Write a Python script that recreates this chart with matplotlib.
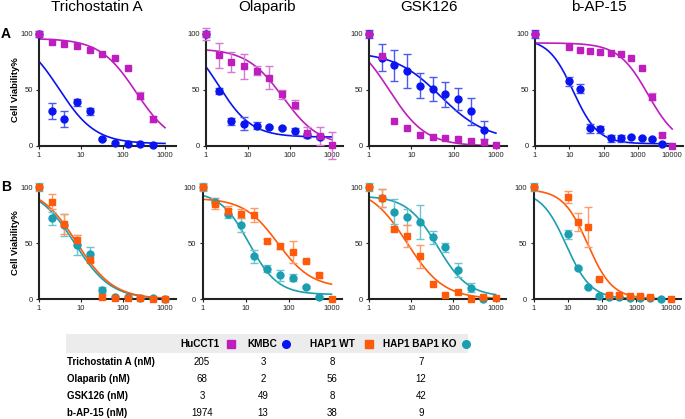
import numpy as np
import matplotlib
matplotlib.use("Agg")
import matplotlib.pyplot as plt
from matplotlib.lines import Line2D
from matplotlib.patches import Rectangle

plt.rcParams['font.family'] = ['Liberation Sans', 'DejaVu Sans']

# ---------------- data ----------------
drugs = ["Trichostatin A", "Olaparib", "GSK126", "b-AP-15"]
doses = [1, 2, 4, 8, 16, 32, 64, 128, 256, 512, 1000]
doses_bap = [1, 10, 20, 40, 80, 160, 320, 640, 1280, 2560, 5120, 10000]
nan = np.nan

# Row A: HuCCT1 (magenta squares), KMBC (blue circles)
tsa_hucct1 = [100, 93, 91, 89, 86, 82, 79, 70, 45, 24, nan]
tsa_hucct1_err = [0, 0, 0, 0, 0, 0, 0, 0, 3, 3, 0]
tsa_kmbc = [100, 31, 24, 39, 31, 6, 3, 2, 1.5, 1.2, nan]
tsa_kmbc_err = [3, 7, 7, 3, 3, 1, 0, 0, 0, 0, 0]

ola_hucct1 = [100, 81, 75, 71, 67, 61, 46, 37, 12, 9, 0.6]
ola_hucct1_err = [5, 11, 9, 11, 4, 10, 4, 4, 5, 8, 12]
ola_kmbc = [100, 49, 22, 20, 18, 17, 16, 13, 10, 8, nan]
ola_kmbc_err = [3, 3, 3, 6, 3, 1, 1, 3, 2, 2, 0]

gsk_hucct1 = [100, 80, 22, 16, 10, 8, 7, 6.5, 4.5, 3.3, 0.6]
gsk_hucct1_err = [0, 0, 0, 0, 0, 0, 0, 0, 0, 0, 0]
gsk_kmbc = [100, 79, 72, 67, 54, 51, 46, 42, 31, 14, nan]
gsk_kmbc_err = [4, 12, 14, 15, 11, 11, 11, 10, 12, 8, 0]

bap_hucct1 = [100, 88, 86, 85, 84, 83, 82, 79, 70, 44, 10, 0.3]
bap_hucct1_err = [0, 0, 0, 0, 0, 0, 0, 0, 0, 3, 2, 0]
bap_kmbc = [100, 58, 51, 16, 15, 7, 7, 8, 7, 6, 2, nan]
bap_kmbc_err = [4, 4, 4, 4, 3, 3, 3, 1, 1, 1, 1, 0]

# Row B: HAP1 WT (orange squares), HAP1 BAP1 KO (teal circles)
tsa_wt = [100, 87, 67, 53, 35, 1.5, 0.6, 1, 0.6, 0.3, 0]
tsa_wt_err = [0, 7, 9, 4, 2, 0, 0, 0, 0, 0, 0]
tsa_ko = [100, 72, 66, 48, 40, 8, 2, 2, 1, 1, 0]
tsa_ko_err = [4, 6, 10, 9, 6, 3, 0, 0, 0, 0, 0]

ola_wt = [100, 85, 79, 76, 75, 52, 47, 42, 34, 21, 0]
ola_wt_err = [3, 5, 4, 4, 6, 2, 2, 10, 1, 2, 0]
ola_ko = [100, 87, 76, 66, 38, 27, 21, 19, 10.5, 2, nan]
ola_ko_err = [4, 3, 4, 6, 6, 3, 5, 3, 1, 1, 0]

gsk_wt = [100, 90, 62.5, 56, 38, 13, 4, 6.5, 0.3, 1.5, 1]
gsk_wt_err = [0, 8, 2, 10, 10, 0, 0, 0, 0, 0, 0]
gsk_ko = [100, 90, 78, 73, 69, 55, 46, 26, 10, 0, nan]
gsk_ko_err = [4, 8, 11, 7, 15, 6, 4, 6, 4, 0, 0]

bap_wt = [100, 91, 69, 64, 18, 4, 4, 3, 3, 1.5, nan, 0]
bap_wt_err = [0, 5, 8, 18, 1, 1, 1, 1, 1, 1, 0, 0]
bap_ko = [100, 58, 28, 11, 3, 1.5, 1.5, 0.6, 0.6, 0.6, 0.3, nan]
bap_ko_err = [4, 4, 1, 1, 0, 0, 0, 0, 0, 0, 0, 0]

# fitted dose-response curve parameters: (top, bottom, IC50 nM, hill)
fit_hucct1 = [(96, 0, 205, 1.0), (87, 0, 68, 1.0), (100, 0, 3, 1.0), (92, 0, 1974, 1.0)]
fit_kmbc = [(100, 2, 3, 1.0), (100, 8, 2, 1.1), (84, 5, 49, 0.8), (96, 2, 13, 1.2)]
fit_wt = [(100, 0, 8, 1.0), (90, 10, 56, 1.1), (100, 0, 8, 1.0), (98, 0, 38, 1.2)]
fit_ko = [(100, 0, 7, 1.0), (96, 4, 12, 1.3), (92, 2, 42, 1.2), (96.5, 0, 9, 1.2)]

# IC50 table
cell_lines = ["HuCCT1", "KMBC", "HAP1 WT", "HAP1 BAP1 KO"]
table_rows = ["Trichostatin A (nM)", "Olaparib (nM)", "GSK126 (nM)", "b-AP-15 (nM)"]
ic50_hucct1 = [205, 68, 3, 1974]
ic50_kmbc = [3, 2, 49, 13]
ic50_wt = [8, 56, 8, 38]
ic50_ko = [7, 12, 42, 9]

# ---------------- style ----------------
MAG, MAG_E = "#BE1EBE", "#D27AD2"
BLU, BLU_E = "#0A14EE", "#4A5AF2"
ORA, ORA_E = "#FF5A0A", "#FF9A66"
TEA, TEA_E = "#1A9EB0", "#6CC4D0"

W, H = 685, 419
fig = plt.figure(figsize=(W / 100, H / 100), dpi=100)


def add_ax(left_px, zero_px, decade_px, top_px, xmax):
    width = decade_px * np.log10(xmax)
    return fig.add_axes([left_px / W, (H - zero_px) / H, width / W, (zero_px - top_px) / H])


def fit_curve(x, p):
    top, bottom, ic50, hill = p
    return bottom + (top - bottom) / (1 + (x / ic50) ** hill)


def draw_series(ax, x, y, e, marker, col, ecol, ms):
    x = np.asarray(x, float)
    y = np.asarray(y, float)
    e = np.asarray(e, float)
    m = (e > 0) & ~np.isnan(y)
    eb = ax.errorbar(x[m], y[m], yerr=e[m], fmt='none', ecolor=ecol, elinewidth=1.0,
                     capsize=2.6, capthick=1.0, zorder=3)
    for art in list(eb.lines[1]) + list(eb.lines[2]):
        art.set_clip_on(False)
    ax.plot(x, y, linestyle='none', marker=marker, color=col, mec=col, ms=ms,
            clip_on=False, zorder=4)


def style_ax(ax, xmax, ticks):
    ax.set_xscale('log')
    ax.set_xlim(1, xmax)
    ax.set_ylim(0, 100)
    for s in ['top', 'right']:
        ax.spines[s].set_visible(False)
    for s in ['left', 'bottom']:
        ax.spines[s].set_linewidth(1.5)
        ax.spines[s].set_color('#222222')
    ax.set_xticks(ticks)
    ax.set_xticklabels([str(t) for t in ticks])
    ax.xaxis.set_minor_locator(matplotlib.ticker.NullLocator())
    ax.set_yticks([0, 50, 100])
    ax.set_yticklabels(['0', '50', '100'])
    ax.tick_params(axis='both', length=2, width=0.8, labelsize=5.5, pad=2.5, colors='#222222')
    ax.patch.set_alpha(0)


rowA = [
    (tsa_hucct1, tsa_hucct1_err, tsa_kmbc, tsa_kmbc_err),
    (ola_hucct1, ola_hucct1_err, ola_kmbc, ola_kmbc_err),
    (gsk_hucct1, gsk_hucct1_err, gsk_kmbc, gsk_kmbc_err),
    (bap_hucct1, bap_hucct1_err, bap_kmbc, bap_kmbc_err),
]
rowB = [
    (tsa_wt, tsa_wt_err, tsa_ko, tsa_ko_err),
    (ola_wt, ola_wt_err, ola_ko, ola_ko_err),
    (gsk_wt, gsk_wt_err, gsk_ko, gsk_ko_err),
    (bap_wt, bap_wt_err, bap_ko, bap_ko_err),
]

# pixel geometry: (left px of x=1, px per decade)
colsA = [(39, 42.0), (206, 42.0), (369, 42.3), (535, 34.3)]
colsB = [(39, 42.0), (202.5, 43.0), (369, 42.2), (533.5, 34.3)]
title_x = [97, 267, 429, 599]
MS = 5.0

for i in range(4):
    is_bap = (i == 3)
    xd = doses_bap if is_bap else doses
    xmax = 20000 if is_bap else 1800
    xend = 10000 if is_bap else 1000
    ticks = [1, 10, 100, 1000, 10000] if is_bap else [1, 10, 100, 1000]
    xs = np.logspace(0, np.log10(xend), 200)

    # Row A
    l, d = colsA[i]
    ax = add_ax(l, 146, d, 34, xmax)
    style_ax(ax, xmax, ticks)
    hy, he, ky, ke = rowA[i]
    ax.plot(xs, fit_curve(xs, fit_kmbc[i]), color=BLU, lw=1.2, zorder=2)
    ax.plot(xs, fit_curve(xs, fit_hucct1[i]), color=MAG, lw=1.2, zorder=2)
    draw_series(ax, xd, ky, ke, 'o', BLU, BLU_E, MS)
    draw_series(ax, xd, hy, he, 's', MAG, MAG_E, MS)

    # Row B
    l, d = colsB[i]
    ax = add_ax(l, 299, d, 187, xmax)
    style_ax(ax, xmax, ticks)
    wy, we, oy, oe = rowB[i]
    ax.plot(xs, fit_curve(xs, fit_ko[i]), color=TEA, lw=1.2, zorder=2)
    ax.plot(xs, fit_curve(xs, fit_wt[i]), color=ORA, lw=1.2, zorder=2)
    draw_series(ax, xd, oy, oe, 'o', TEA, TEA_E, MS)
    draw_series(ax, xd, wy, we, 's', ORA, ORA_E, MS)

    fig.text(title_x[i] / W, 1 - 7 / H, drugs[i], ha='center', va='center', fontsize=11)

for yc in (90, 243):
    fig.text(15 / W, 1 - yc / H, 'Cell Viability%', rotation=90, fontsize=6.8,
             fontweight='bold', ha='center', va='center')

fig.text(1 / W, 1 - 34 / H, 'A', fontsize=10, fontweight='bold', ha='left', va='center')
fig.text(1 / W, 1 - 187 / H, 'B', fontsize=10, fontweight='bold', ha='left', va='center')

# ---------------- table ----------------
fig.add_artist(Rectangle((66 / W, 1 - 353 / H), (468 - 66) / W, 19 / H,
                         transform=fig.transFigure, facecolor='#ECECEC', edgecolor='none', zorder=0))
hdr_y = 1 - 344 / H
hdr_text_x = [180, 247, 310, 383]
hdr_mark_x = [231, 286, 369, 466]
hdr_marks = [('s', MAG), ('o', BLU), ('s', ORA), ('o', TEA)]
for name, tx, mx, (mk, col) in zip(cell_lines, hdr_text_x, hdr_mark_x, hdr_marks):
    fig.text(tx / W, hdr_y, name, fontsize=7.2, fontweight='bold', ha='left', va='center')
    fig.add_artist(Line2D([mx / W], [hdr_y], marker=mk, color=col, ms=5.5,
                          transform=fig.transFigure, linestyle='none'))

row_y = [362, 379, 396, 413]
val_x = [202, 263, 332, 421]
cols_vals = [ic50_hucct1, ic50_kmbc, ic50_wt, ic50_ko]
for r, (lab, yy) in enumerate(zip(table_rows, row_y)):
    fig.text(67 / W, 1 - yy / H, lab, fontsize=7, fontweight='bold', ha='left', va='center')
    for vx, vals in zip(val_x, cols_vals):
        fig.text(vx / W, 1 - yy / H, str(vals[r]), fontsize=7, ha='center', va='center')

fig.savefig('out.png', dpi=100)
